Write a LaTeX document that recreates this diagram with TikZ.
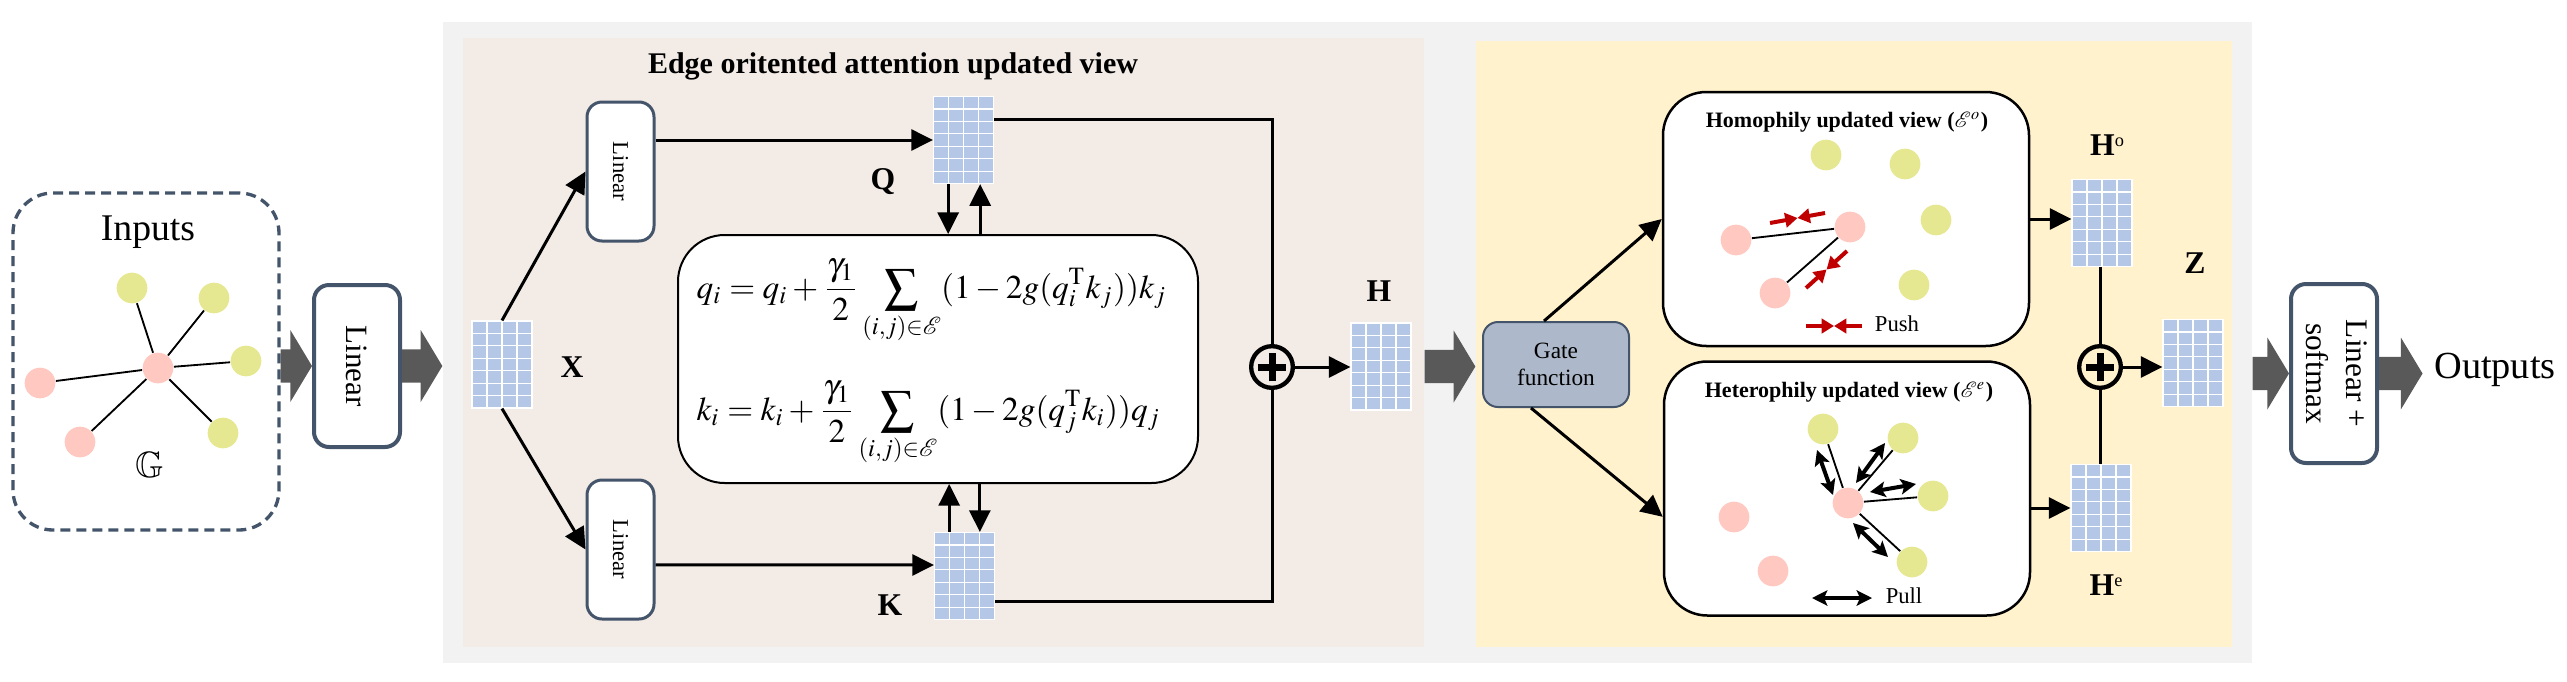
\documentclass[tikz,border=0pt]{standalone}
\usepackage{mathptmx}
\usepackage{amssymb}
\usepackage{graphicx}
\usepackage{fontspec}
\setmainfont{Liberation Serif}
\usetikzlibrary{arrows.meta,calc}

\definecolor{panelgray}{HTML}{F2F2F2}
\definecolor{beige}{HTML}{F2EBE6}
\definecolor{paleyellow}{HTML}{FFF2CC}
\definecolor{matblue}{HTML}{B4C7E7}
\definecolor{pinknode}{HTML}{FFC8C0}
\definecolor{limenode}{HTML}{E6E891}
\definecolor{slate}{HTML}{44546A}
\definecolor{gatefill}{HTML}{ADB9CA}
\definecolor{pushred}{HTML}{C00000}
\definecolor{arrgray}{HTML}{595959}

% 粗灰箭头
\newcommand\bigarrow[2]{%
  \fill[arrgray] let \p1=(#1), \p2=(#2) in
    (\x1,\y1+5pt) -- (\x2-6.5pt,\y1+5pt) -- (\x2-6.5pt,\y1+10.8pt) -- (\x2,\y1)
    -- (\x2-6.5pt,\y1-10.8pt) -- (\x2-6.5pt,\y1-5pt) -- (\x1,\y1-5pt) -- cycle;}
% 推 / 拉 标记
\newcommand\pushmark[2]{%
  \draw[pushred,line width=1.2pt,-{Triangle[length=3.7pt,width=4.3pt]}] (#1) -- ($(#1)!0.5!(#2)$);
  \draw[pushred,line width=1.2pt,-{Triangle[length=3.7pt,width=4.3pt]}] (#2) -- ($(#1)!0.5!(#2)$);}
\newcommand\pullmark[2]{%
  \draw[line width=1.2pt,{Stealth[length=4.6pt,width=4.6pt,inset=1pt]}-{Stealth[length=4.6pt,width=4.6pt,inset=1pt]}] (#1) -- (#2);}
% 上标小字母
\newcommand\hsup[1]{\textbf{H}\raisebox{2.8pt}{\fontsize{5.5}{6}\selectfont #1}}

\begin{document}
\begin{tikzpicture}[x=0.3pt,y=-0.3pt,
  panel/.style={rectangle,inner sep=0pt},
  lbox/.style={draw=slate,line width=1.2pt,rounded corners=4.5pt,fill=white,inner sep=0pt},
  vbox/.style={draw,line width=0.75pt,rounded corners=13pt,fill=white,inner sep=0pt,
    minimum width=109.8pt,minimum height=76.2pt},
  mat/.style={fill=matblue,draw=white,line width=0.35pt,inner sep=0pt,
    minimum width=18pt,minimum height=26.1pt,
    path picture={
      \foreach \c in {1,2,3}
        \draw[white,line width=0.35pt] ([xshift=\c*4.5pt]path picture bounding box.north west)
          -- ([xshift=\c*4.5pt]path picture bounding box.south west);
      \foreach \r in {1,...,6}
        \draw[white,line width=0.35pt] ([yshift=-\r*3.73pt]path picture bounding box.north west)
          -- ([yshift=-\r*3.73pt]path picture bounding box.north east);
    }},
  pk/.style={circle,fill=pinknode,minimum size=9.2pt,inner sep=0pt},
  lm/.style={circle,fill=limenode,minimum size=9.2pt,inner sep=0pt},
  edge/.style={line width=0.55pt},
  conn/.style={line width=0.9pt},
  arr/.style={line width=0.9pt,-{Triangle[length=6.5pt,width=6.3pt]}},
  plusc/.style={circle,draw,line width=1.3pt,minimum size=12.5pt,inner sep=0pt,
    path picture={
      \draw[line width=2.1pt] ([xshift=-4.3pt]path picture bounding box.center)
        -- ([xshift=4.3pt]path picture bounding box.center);
      \draw[line width=2.1pt] ([yshift=-4.3pt]path picture bounding box.center)
        -- ([yshift=4.3pt]path picture bounding box.center);
    }},
  lab/.style={font=\fontsize{9.5}{11}\selectfont\bfseries},
  vtitle/.style={font=\fontsize{6.6}{8}\selectfont\bfseries},
  small/.style={font=\fontsize{6.8}{8}\selectfont}]

\useasboundingbox (0,0) rectangle (2567,681);

% 背景面板
\node[panel,fill=panelgray,minimum width=542.7pt,minimum height=192.3pt] (outer) at (1347.5,342.5) {};
\node[panel,fill=beige,minimum width=288.3pt,minimum height=182.7pt] (beige) at (943.5,342.5) {};
\node[panel,fill=paleyellow,minimum width=226.8pt,minimum height=181.8pt] (yellow) at (1854,344) {};

% 输入图
\node[draw=slate,line width=1pt,dash pattern=on 3pt off 1.8pt,rounded corners=12pt,
  minimum width=79.8pt,minimum height=101.1pt] (inputs) at (146,361.5) {};
\node[font=\fontsize{11.3}{13}\selectfont] (intitle) at (148,232) {Inputs};
\node[pk] (p0) at (158,368) {};
\node[pk] (p1) at (40,383) {};
\node[pk] (p2) at (80,442) {};
\node[lm] (y1) at (132,288) {};
\node[lm] (y2) at (214,298) {};
\node[lm] (y3) at (246,361) {};
\node[lm] (y4) at (223,433) {};
\foreach \n in {p1,p2,y1,y2,y3,y4}
  \draw[edge] (p0) -- (\n);
\node[font=\fontsize{11}{13}\selectfont] (gname) at (150,465) {$\mathbb{G}$};

\node[lbox,minimum width=25.8pt,minimum height=48.6pt] (lin1) at (357,366)
  {\rotatebox{-90}{\fontsize{9.3}{11}\selectfont Linear}};
\bigarrow{inputs.east |- lin1.west}{lin1.west}
\bigarrow{lin1.east}{outer.west}

% 边注意力更新视图
\node[font=\fontsize{9}{11}\selectfont\bfseries] (eatitle) at (893,66) {Edge oritented attention updated view};
\node[mat] (X) at (502,364.5) {};
\node[lab] (Xlab) at (572,367) {X};
\node[lbox,line width=0.9pt,minimum width=20.1pt,minimum height=41.7pt] (lintop) at (620.5,171.5)
  {\rotatebox{-90}{\fontsize{6.8}{8}\selectfont Linear}};
\node[lbox,line width=0.9pt,minimum width=20.1pt,minimum height=41.7pt] (linbot) at (620.5,549.5)
  {\rotatebox{-90}{\fontsize{6.8}{8}\selectfont Linear}};
\node[mat] (Q) at (963.5,140) {};
\node[lab] (Qlab) at (883,182) {Q};
\node[mat] (K) at (964.5,576) {};
\node[lab] (Klab) at (890,605) {K};
\draw[arr] (X.north) -- (lintop.west);
\draw[arr] (X.south) -- (linbot.west);
\draw[arr] (lintop.east |- Q.west) -- (Q.west);
\draw[arr] ([yshift=-4.6pt]linbot.east) -- ([yshift=3.3pt]K.west);

\node[draw,line width=0.6pt,rounded corners=14pt,fill=white,inner sep=0pt,
  minimum width=156pt,minimum height=74.4pt] (eq) at (938,359) {};
\node[anchor=base west,inner sep=0pt,font=\fontsize{10}{12}\selectfont] (eq1) at ([xshift=5.7pt,yshift=18.3pt]eq.west)
  {$\displaystyle q_i = q_i + \frac{\gamma_1}{2}\sum_{(i,j)\in\mathcal{E}}(1-2g(q_i^{\mathrm{T}}k_j))k_j$};
\node[anchor=base west,inner sep=0pt,font=\fontsize{10}{12}\selectfont] (eq2) at ([xshift=5.7pt,yshift=-18.3pt]eq.west)
  {$\displaystyle k_i = k_i + \frac{\gamma_1}{2}\sum_{(i,j)\in\mathcal{E}}(1-2g(q_j^{\mathrm{T}}k_i))q_j$};

\coordinate (qd) at ([xshift=-4.6pt]Q.south);
\coordinate (qu) at ([xshift=5pt]Q.south);
\coordinate (ku) at ([xshift=-4.6pt]K.north);
\coordinate (kd) at ([xshift=4.6pt]K.north);
\draw[arr] (qd) -- (qd |- eq.north);
\draw[arr] (qu |- eq.north) -- (qu);
\draw[arr] (ku) -- (ku |- eq.south);
\draw[arr] (kd |- eq.south) -- (kd);

\node[plusc] (plus1) at (1272,367) {};
\draw[conn] ([yshift=6.3pt]Q.east) -| (plus1.north);
\draw[conn] ([yshift=-7.5pt]K.east) -| (plus1.south);
\node[mat] (H) at (1381,366.5) {};
\node[lab] (Hlab) at (1379,291) {H};
\draw[arr] (plus1.east) -- (plus1.east -| H.west);
\bigarrow{beige.east |- H.west}{yellow.west}

% 门控与两个视图
\node[draw=slate,line width=0.6pt,fill=gatefill,rounded corners=4.5pt,align=center,
  font=\fontsize{7}{8.2}\selectfont,minimum width=43.8pt,minimum height=25.5pt] (gate) at (1556,364.5)
  {Gate\\function};
\node[vbox] (homo) at (1846,219) {};
\node[vbox] (hetero) at (1847,488.5) {};
\draw[arr] ([xshift=-3.6pt]gate.north) -- (homo.west);
\draw[arr] ([xshift=-7.5pt]gate.south) -- ([yshift=-8.5pt]hetero.west);

\node[vtitle] (homotitle) at (1847,122) {Homophily updated view ($\mathcal{E}^{o}$)};
\node[lm] (hy1) at (1826,155) {};
\node[lm] (hy2) at (1905,164) {};
\node[lm] (hy3) at (1936,220) {};
\node[lm] (hy4) at (1914,285) {};
\node[pk] (hp1) at (1736,240) {};
\node[pk] (hp2) at (1850,227) {};
\node[pk] (hp3) at (1775,293) {};
\draw[edge] (hp1) -- (hp2);
\draw[edge] (hp3) -- (hp2);
\pushmark{1770,223}{1825,213}
\pushmark{1806,288}{1847,251}
\node[small] (pushlab) at (1897,324) {Push};
\pushmark{1806,326}{1862,326}

\node[vtitle] (heterotitle) at (1849,392) {Heterophily updated view ($\mathcal{E}^{e}$)};
\node[lm] (ey1) at (1823,429) {};
\node[lm] (ey2) at (1903,438) {};
\node[lm] (ey3) at (1933,496) {};
\node[lm] (ey4) at (1912,562) {};
\node[pk] (ep0) at (1848,503) {};
\node[pk] (ep1) at (1734,517) {};
\node[pk] (ep2) at (1773,571) {};
\foreach \n in {ey1,ey2,ey3,ey4}
  \draw[edge] (ep0) -- (\n);
\pullmark{1817,450}{1833,495}
\pullmark{1885,443}{1856,483}
\pullmark{1870,492}{1916,484}
\pullmark{1853,523}{1888,557}
\node[small] (pulllab) at (1904,596) {Pull};
\pullmark{1812,598}{1872,598}

% 融合输出
\node[mat] (Ho) at (2102,223) {};
\node[font=\fontsize{9.5}{11}\selectfont] (Holab) at (2107,145) {\hsup{o}};
\node[mat] (He) at (2101,508) {};
\node[font=\fontsize{9.5}{11}\selectfont] (Helab) at (2106,585) {\hsup{e}};
\draw[arr] (homo.east) -- (homo.east -| Ho.west);
\draw[arr] (hetero.east |- He.west) -- (He.west);
\node[plusc] (plus2) at (2100,367) {};
\draw[conn] (plus2.north |- Ho.south) -- (plus2.north);
\draw[conn] (plus2.south) -- (plus2.south |- He.north);
\node[mat] (Z) at (2193,363) {};
\node[lab] (Zlab) at (2195,263) {Z};
\draw[arr] (plus2.east) -- (plus2.east -| Z.west);

\node[lbox,minimum width=25.8pt,minimum height=53.7pt] (ls) at (2334,373.5)
  {\rotatebox{-90}{\fontsize{9.4}{12}\selectfont\begin{tabular}{@{}c@{}}Linear +\\softmax\end{tabular}}};
\node[font=\fontsize{11.5}{13}\selectfont] (outs) at (2495,370) {Outputs};
\bigarrow{outer.east |- ls.west}{ls.west}
\bigarrow{ls.east}{outs.west}

\end{tikzpicture}
\end{document}
